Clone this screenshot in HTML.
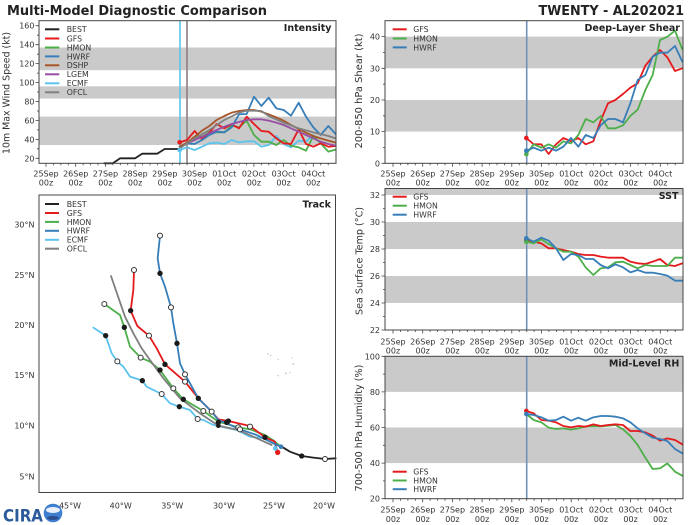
<!DOCTYPE html>
<html><head><meta charset="utf-8"><style>
html,body{margin:0;padding:0;background:#fff;}
svg{display:block;font-family:"DejaVu Sans","Liberation Sans",sans-serif;}
.tl{font-size:8px;fill:#333;}
.lg{font-size:7.8px;fill:#333;}
.yl{font-size:9.4px;fill:#333;}
.pl{font-size:9.5px;font-weight:bold;fill:#222;}
.ln{fill:none;stroke-width:1.8;stroke-linejoin:round;stroke-linecap:round;}
.ns{vector-effect:non-scaling-stroke;}
</style></head><body>
<svg width="700" height="525" viewBox="0 0 700 525" xmlns="http://www.w3.org/2000/svg">
<rect width="700" height="525" fill="#fff"/>

<!-- Titles -->
<text x="7" y="15" font-size="13.5" font-weight="bold" fill="#222" textLength="260" lengthAdjust="spacingAndGlyphs">Multi-Model Diagnostic Comparison</text>
<text x="538.5" y="15" font-size="13.5" font-weight="bold" fill="#222" textLength="145.5" lengthAdjust="spacingAndGlyphs">TWENTY - AL202021</text>

<!-- ================= INTENSITY ================= -->
<g>
<rect x="39" y="47.5" width="297" height="22.7" fill="#cacaca"/>
<rect x="39" y="86.3" width="297" height="12.3" fill="#cacaca"/>
<rect x="39" y="116.6" width="297" height="28.4" fill="#cacaca"/>
<line x1="180" y1="20.7" x2="180" y2="163.3" stroke="#5bc3ee" stroke-width="1.6"/>
<line x1="187" y1="20.7" x2="187" y2="163.3" stroke="#8e7f80" stroke-width="1.6"/>
<g transform="scale(0.333333)">
<path class="ln ns" stroke="#222" d="M313,490 L338,490 L360,475 L405,475 L427,461 L472,461 L494,447 L539,447"/>
<path class="ln ns" stroke="#5bc3ee" d="M539,450 L561,442 L584,450 L606,440 L628,430 L650,428 L673,432 L695,420 L717,427 L740,424 L762,424 L784,440 L806,435 L829,408 L851,432 L873,442 L896,422 L918,425 L940,405"/>
<path class="ln ns" stroke="#4daf4a" d="M539,440 L561,430 L584,410 L606,410 L628,397 L650,397 L673,397 L695,377 L717,382 L740,362 L762,405 L784,425 L806,425 L829,435 L851,420 L873,437 L896,442 L918,452 L940,408 L962,430 L985,455 L1007,449"/>
<path class="ln ns" stroke="#e41a1c" d="M539,427 L561,420 L584,393 L606,418 L628,398 L650,372 L673,385 L695,373 L717,385 L740,350 L762,372 L784,393 L806,395 L829,415 L851,430 L873,432 L896,388 L918,432 L940,440 L962,430 L985,440 L1007,438"/>
<path class="ln ns" stroke="#377eb8" d="M539,440 L561,430 L584,432 L606,420 L628,405 L650,395 L673,397 L695,382 L717,343 L740,342 L762,290 L784,318 L806,293 L829,325 L851,330 L873,347 L896,308 L918,350 L940,382 L962,405 L985,378 L1007,402"/>
<path class="ln ns" stroke="#984ea3" d="M539,440 L561,430 L584,420 L606,410 L628,400 L650,390 L673,380 L695,372 L717,366 L740,360 L762,358 L784,358 L806,362 L829,368 L851,375 L873,385 L896,395 L918,405 L940,415 L962,425 L985,432 L1007,437"/>
<path class="ln ns" stroke="#a65628" d="M539,440 L561,428 L584,410 L606,392 L628,378 L650,360 L673,348 L695,338 L717,333 L740,330 L762,330 L784,335 L806,343 L829,352 L851,362 L873,375 L896,387 L918,398 L940,408 L962,415 L985,422 L1007,428"/>
<path class="ln ns" stroke="#808080" d="M539,445 L584,415 L628,390 L673,360 L717,338 L740,332 L762,332 L784,333 L806,348 L851,368 L896,385 L940,397 L985,408 L1007,415"/>
<circle cx="539" cy="427" r="7" fill="#e41a1c"/>
<circle cx="539" cy="450" r="7" fill="#5bc3ee"/>
</g>
<rect x="39" y="20.7" width="297" height="142.6" fill="none" stroke="#444" stroke-width="1"/>
<path stroke="#444" stroke-width="0.8" fill="none" d="M46,163.3v3.5M75.7,163.3v3.5M105.4,163.3v3.5M135.1,163.3v3.5M164.8,163.3v3.5M194.5,163.3v3.5M224.2,163.3v3.5M253.9,163.3v3.5M283.6,163.3v3.5M313.3,163.3v3.5
M53.4,163.3v2M60.9,163.3v2M68.3,163.3v2M83.1,163.3v2M90.6,163.3v2M98,163.3v2M112.8,163.3v2M120.3,163.3v2M127.7,163.3v2M142.5,163.3v2M150,163.3v2M157.4,163.3v2M172.2,163.3v2M179.7,163.3v2M187.1,163.3v2M201.9,163.3v2M209.4,163.3v2M216.8,163.3v2M231.6,163.3v2M239.1,163.3v2M246.5,163.3v2M261.3,163.3v2M268.8,163.3v2M276.2,163.3v2M291,163.3v2M298.5,163.3v2M305.9,163.3v2M320.7,163.3v2M328.2,163.3v2
M39,158.3h-3.5M39,139.4h-3.5M39,120.4h-3.5M39,101.5h-3.5M39,82.5h-3.5M39,63.6h-3.5M39,44.7h-3.5M39,25.7h-3.5
M39,148.8h-2M39,129.9h-2M39,111h-2M39,92h-2M39,73.1h-2M39,54.2h-2M39,35.2h-2"/>
<g class="tl" text-anchor="end">
<text x="34.5" y="28.7">160</text><text x="34.5" y="47.7">140</text><text x="34.5" y="66.6">120</text><text x="34.5" y="85.5">100</text><text x="34.5" y="104.5">80</text><text x="34.5" y="123.4">60</text><text x="34.5" y="142.4">40</text><text x="34.5" y="161.3">20</text>
</g>
<g class="tl" text-anchor="middle">
<text x="46" y="176.5">25Sep</text><text x="75.7" y="176.5">26Sep</text><text x="105.4" y="176.5">27Sep</text><text x="135.1" y="176.5">28Sep</text><text x="164.8" y="176.5">29Sep</text><text x="194.5" y="176.5">30Sep</text><text x="224.2" y="176.5">01Oct</text><text x="253.9" y="176.5">02Oct</text><text x="283.6" y="176.5">03Oct</text><text x="313.3" y="176.5">04Oct</text>
<text x="46" y="185.7">00z</text><text x="75.7" y="185.7">00z</text><text x="105.4" y="185.7">00z</text><text x="135.1" y="185.7">00z</text><text x="164.8" y="185.7">00z</text><text x="194.5" y="185.7">00z</text><text x="224.2" y="185.7">00z</text><text x="253.9" y="185.7">00z</text><text x="283.6" y="185.7">00z</text><text x="313.3" y="185.7">00z</text>
</g>
<text class="yl" transform="translate(9.5,93) rotate(-90)" text-anchor="middle" textLength="122" lengthAdjust="spacingAndGlyphs">10m Max Wind Speed (kt)</text>
<text class="pl" x="331.5" y="31" text-anchor="end">Intensity</text>
<g stroke-width="2">
<line x1="45" y1="29.3" x2="59.3" y2="29.3" stroke="#222"/>
<line x1="45" y1="38.5" x2="59.3" y2="38.5" stroke="#e41a1c"/>
<line x1="45" y1="47.5" x2="59.3" y2="47.5" stroke="#4daf4a"/>
<line x1="45" y1="56.4" x2="59.3" y2="56.4" stroke="#377eb8"/>
<line x1="45" y1="65.3" x2="59.3" y2="65.3" stroke="#a65628"/>
<line x1="45" y1="74.3" x2="59.3" y2="74.3" stroke="#984ea3"/>
<line x1="45" y1="83.3" x2="59.3" y2="83.3" stroke="#5bc3ee"/>
<line x1="45" y1="92.3" x2="59.3" y2="92.3" stroke="#808080"/>
</g>
<g class="lg">
<text x="66.7" y="32.2">BEST</text><text x="66.7" y="41.4">GFS</text><text x="66.7" y="50.4">HMON</text><text x="66.7" y="59.3">HWRF</text><text x="66.7" y="68.2">DSHP</text><text x="66.7" y="77.2">LGEM</text><text x="66.7" y="86.2">ECMF</text><text x="66.7" y="95.2">OFCL</text>
</g>
</g>

<!-- ================= SHEAR ================= -->
<g>
<rect x="385" y="36.6" width="298" height="31.7" fill="#cacaca"/>
<rect x="385" y="100" width="298" height="31.6" fill="#cacaca"/>
<line x1="526.7" y1="20.7" x2="526.7" y2="163.3" stroke="#6f93b5" stroke-width="1.6"/>
<g transform="translate(350,0) scale(0.333333)">
<path class="ln ns" stroke="#e41a1c" d="M529,414 L551,433 L574,433 L596,462 L618,433 L640,414 L663,424 L685,414 L707,433 L730,424 L752,362 L774,310 L796,300 L819,282 L841,263 L863,250 L886,197 L908,170 L930,150 L952,172 L975,213 L997,205"/>
<path class="ln ns" stroke="#4daf4a" d="M529,462 L551,433 L574,443 L596,433 L618,443 L640,424 L663,430 L685,405 L707,357 L730,367 L752,348 L774,385 L796,385 L819,376 L841,348 L863,329 L886,270 L908,225 L930,120 L952,110 L975,92 L997,148"/>
<path class="ln ns" stroke="#377eb8" d="M529,452 L551,443 L574,452 L596,443 L618,452 L640,440 L663,414 L685,440 L707,405 L730,414 L752,376 L774,357 L796,357 L819,367 L841,310 L863,240 L886,225 L908,170 L930,158 L952,158 L975,138 L997,185"/>
<circle cx="529" cy="414" r="7" fill="#e41a1c"/>
<circle cx="529" cy="462" r="7" fill="#4daf4a"/>
<circle cx="529" cy="452" r="7" fill="#377eb8"/>
</g>
<rect x="385" y="20.7" width="298" height="142.6" fill="none" stroke="#444" stroke-width="1"/>
<path stroke="#444" stroke-width="0.8" fill="none" d="M393,163.3v3.5M422.7,163.3v3.5M452.4,163.3v3.5M482.1,163.3v3.5M511.8,163.3v3.5M541.5,163.3v3.5M571.2,163.3v3.5M600.9,163.3v3.5M630.6,163.3v3.5M660.3,163.3v3.5
M400.4,163.3v2M407.9,163.3v2M415.3,163.3v2M430.1,163.3v2M437.6,163.3v2M445,163.3v2M459.8,163.3v2M467.3,163.3v2M474.7,163.3v2M489.5,163.3v2M497,163.3v2M504.4,163.3v2M519.2,163.3v2M526.7,163.3v2M534.1,163.3v2M548.9,163.3v2M556.4,163.3v2M563.8,163.3v2M578.6,163.3v2M586.1,163.3v2M593.5,163.3v2M608.3,163.3v2M615.8,163.3v2M623.2,163.3v2M638,163.3v2M645.5,163.3v2M652.9,163.3v2M667.7,163.3v2M675.2,163.3v2
M385,163.3h-3.5M385,131.6h-3.5M385,100h-3.5M385,68.3h-3.5M385,36.6h-3.5
M385,147.5h-2M385,115.8h-2M385,84.2h-2M385,52.5h-2"/>
<g class="tl" text-anchor="end">
<text x="380" y="39.6">40</text><text x="380" y="71.3">30</text><text x="380" y="103">20</text><text x="380" y="134.6">10</text><text x="380" y="166.3">0</text>
</g>
<g class="tl" text-anchor="middle">
<text x="393" y="176.5">25Sep</text><text x="422.7" y="176.5">26Sep</text><text x="452.4" y="176.5">27Sep</text><text x="482.1" y="176.5">28Sep</text><text x="511.8" y="176.5">29Sep</text><text x="541.5" y="176.5">30Sep</text><text x="571.2" y="176.5">01Oct</text><text x="600.9" y="176.5">02Oct</text><text x="630.6" y="176.5">03Oct</text><text x="660.3" y="176.5">04Oct</text>
<text x="393" y="185.7">00z</text><text x="422.7" y="185.7">00z</text><text x="452.4" y="185.7">00z</text><text x="482.1" y="185.7">00z</text><text x="511.8" y="185.7">00z</text><text x="541.5" y="185.7">00z</text><text x="571.2" y="185.7">00z</text><text x="600.9" y="185.7">00z</text><text x="630.6" y="185.7">00z</text><text x="660.3" y="185.7">00z</text>
</g>
<text class="yl" transform="translate(362,91) rotate(-90)" text-anchor="middle" textLength="115" lengthAdjust="spacingAndGlyphs">200-850 hPa Shear (kt)</text>
<text class="pl" x="680" y="31" text-anchor="end">Deep-Layer Shear</text>
<g stroke-width="2">
<line x1="392.7" y1="29.3" x2="406.7" y2="29.3" stroke="#e41a1c"/>
<line x1="392.7" y1="38.5" x2="406.7" y2="38.5" stroke="#4daf4a"/>
<line x1="392.7" y1="47.4" x2="406.7" y2="47.4" stroke="#377eb8"/>
</g>
<g class="lg"><text x="413.3" y="32.2">GFS</text><text x="413.3" y="41.4">HMON</text><text x="413.3" y="50.3">HWRF</text></g>
</g>

<!-- ================= SST ================= -->
<g>
<rect x="385" y="188.5" width="298" height="6.5" fill="#cacaca"/>
<rect x="385" y="222" width="298" height="27" fill="#cacaca"/>
<rect x="385" y="276" width="298" height="27" fill="#cacaca"/>
<line x1="526.7" y1="188.5" x2="526.7" y2="330" stroke="#6f93b5" stroke-width="1.6"/>
<g transform="translate(350,180) scale(0.333333)">
<path class="ln ns" stroke="#e41a1c" d="M529,180 L551,185 L574,190 L596,205 L618,205 L640,210 L663,215 L685,222 L707,225 L730,225 L752,230 L774,233 L796,233 L819,233 L841,245 L863,250 L886,252 L908,245 L930,237 L952,255 L975,258 L997,250"/>
<path class="ln ns" stroke="#4daf4a" d="M529,185 L551,190 L574,178 L596,192 L618,205 L640,215 L663,215 L685,230 L707,262 L730,285 L752,265 L774,262 L796,247 L819,245 L841,255 L863,265 L886,255 L908,258 L930,258 L952,258 L975,233 L997,233"/>
<path class="ln ns" stroke="#377eb8" d="M529,175 L551,185 L574,173 L596,182 L618,205 L640,240 L663,222 L685,225 L707,237 L730,237 L752,255 L774,265 L796,253 L819,262 L841,277 L863,270 L886,278 L908,278 L930,282 L952,287 L975,302 L997,302"/>
<circle cx="529" cy="180" r="7" fill="#e41a1c"/>
<circle cx="529" cy="185" r="7" fill="#4daf4a"/>
<circle cx="529" cy="175" r="7" fill="#377eb8"/>
</g>
<rect x="385" y="188.5" width="298" height="141.5" fill="none" stroke="#444" stroke-width="1"/>
<path stroke="#444" stroke-width="0.8" fill="none" d="M393,330v3.5M422.7,330v3.5M452.4,330v3.5M482.1,330v3.5M511.8,330v3.5M541.5,330v3.5M571.2,330v3.5M600.9,330v3.5M630.6,330v3.5M660.3,330v3.5
M400.4,330v2M407.9,330v2M415.3,330v2M430.1,330v2M437.6,330v2M445,330v2M459.8,330v2M467.3,330v2M474.7,330v2M489.5,330v2M497,330v2M504.4,330v2M519.2,330v2M526.7,330v2M534.1,330v2M548.9,330v2M556.4,330v2M563.8,330v2M578.6,330v2M586.1,330v2M593.5,330v2M608.3,330v2M615.8,330v2M623.2,330v2M638,330v2M645.5,330v2M652.9,330v2M667.7,330v2M675.2,330v2
M385,330h-3.5M385,303h-3.5M385,276h-3.5M385,249h-3.5M385,222h-3.5M385,195h-3.5
M385,316.5h-2M385,289.5h-2M385,262.5h-2M385,235.5h-2M385,208.5h-2"/>
<g class="tl" text-anchor="end">
<text x="380" y="198">32</text><text x="380" y="225">30</text><text x="380" y="252">28</text><text x="380" y="279">26</text><text x="380" y="306">24</text><text x="380" y="333">22</text>
</g>
<g class="tl" text-anchor="middle">
<text x="393" y="344.3">25Sep</text><text x="422.7" y="344.3">26Sep</text><text x="452.4" y="344.3">27Sep</text><text x="482.1" y="344.3">28Sep</text><text x="511.8" y="344.3">29Sep</text><text x="541.5" y="344.3">30Sep</text><text x="571.2" y="344.3">01Oct</text><text x="600.9" y="344.3">02Oct</text><text x="630.6" y="344.3">03Oct</text><text x="660.3" y="344.3">04Oct</text>
<text x="393" y="353.5">00z</text><text x="422.7" y="353.5">00z</text><text x="452.4" y="353.5">00z</text><text x="482.1" y="353.5">00z</text><text x="511.8" y="353.5">00z</text><text x="541.5" y="353.5">00z</text><text x="571.2" y="353.5">00z</text><text x="600.9" y="353.5">00z</text><text x="630.6" y="353.5">00z</text><text x="660.3" y="353.5">00z</text>
</g>
<text class="yl" transform="translate(362.5,261) rotate(-90)" text-anchor="middle" textLength="108" lengthAdjust="spacingAndGlyphs">Sea Surface Temp (°C)</text>
<text class="pl" x="678.5" y="199" text-anchor="end">SST</text>
<g stroke-width="2">
<line x1="392.7" y1="196.7" x2="406.7" y2="196.7" stroke="#e41a1c"/>
<line x1="392.7" y1="205.7" x2="406.7" y2="205.7" stroke="#4daf4a"/>
<line x1="392.7" y1="214.7" x2="406.7" y2="214.7" stroke="#377eb8"/>
</g>
<g class="lg"><text x="413.3" y="199.6">GFS</text><text x="413.3" y="208.6">HMON</text><text x="413.3" y="217.6">HWRF</text></g>
</g>

<!-- ================= RH ================= -->
<g>
<rect x="385" y="356.3" width="298" height="35.6" fill="#cacaca"/>
<rect x="385" y="427.5" width="298" height="35.6" fill="#cacaca"/>
<line x1="526.7" y1="356.3" x2="526.7" y2="498.7" stroke="#6f93b5" stroke-width="1.6"/>
<g transform="translate(350,340) scale(0.333333)">
<path class="ln ns" stroke="#4daf4a" d="M529,222 L551,240 L574,247 L596,263 L618,267 L640,265 L663,269 L685,265 L707,259 L730,259 L752,259 L774,257 L796,255 L819,268 L841,288 L863,315 L886,353 L908,387 L930,385 L952,370 L975,395 L997,407"/>
<path class="ln ns" stroke="#e41a1c" d="M529,213 L551,220 L574,240 L596,242 L618,247 L640,258 L663,262 L685,258 L707,260 L730,253 L752,258 L774,255 L796,253 L819,255 L841,273 L863,273 L886,277 L908,287 L930,302 L952,295 L975,300 L997,313"/>
<path class="ln ns" stroke="#377eb8" d="M529,222 L551,225 L574,232 L596,242 L618,240 L640,230 L663,242 L685,233 L707,242 L730,232 L752,228 L774,228 L796,230 L819,235 L841,247 L863,265 L886,280 L908,293 L930,297 L952,303 L975,327 L997,340"/>
<circle cx="529" cy="213" r="7" fill="#e41a1c"/>
<circle cx="529" cy="222" r="7" fill="#377eb8"/>
</g>
<rect x="385" y="356.3" width="298" height="142.4" fill="none" stroke="#444" stroke-width="1"/>
<path stroke="#444" stroke-width="0.8" fill="none" d="M393,498.7v3.5M422.7,498.7v3.5M452.4,498.7v3.5M482.1,498.7v3.5M511.8,498.7v3.5M541.5,498.7v3.5M571.2,498.7v3.5M600.9,498.7v3.5M630.6,498.7v3.5M660.3,498.7v3.5
M400.4,498.7v2M407.9,498.7v2M415.3,498.7v2M430.1,498.7v2M437.6,498.7v2M445,498.7v2M459.8,498.7v2M467.3,498.7v2M474.7,498.7v2M489.5,498.7v2M497,498.7v2M504.4,498.7v2M519.2,498.7v2M526.7,498.7v2M534.1,498.7v2M548.9,498.7v2M556.4,498.7v2M563.8,498.7v2M578.6,498.7v2M586.1,498.7v2M593.5,498.7v2M608.3,498.7v2M615.8,498.7v2M623.2,498.7v2M638,498.7v2M645.5,498.7v2M652.9,498.7v2M667.7,498.7v2M675.2,498.7v2
M385,498.7h-3.5M385,463.1h-3.5M385,427.5h-3.5M385,391.9h-3.5M385,356.3h-3.5
M385,480.9h-2M385,445.3h-2M385,409.7h-2M385,374.1h-2"/>
<g class="tl" text-anchor="end">
<text x="380" y="359.3">100</text><text x="380" y="394.9">80</text><text x="380" y="430.5">60</text><text x="380" y="466.1">40</text><text x="380" y="501.7">20</text>
</g>
<g class="tl" text-anchor="middle">
<text x="393" y="512.5">25Sep</text><text x="422.7" y="512.5">26Sep</text><text x="452.4" y="512.5">27Sep</text><text x="482.1" y="512.5">28Sep</text><text x="511.8" y="512.5">29Sep</text><text x="541.5" y="512.5">30Sep</text><text x="571.2" y="512.5">01Oct</text><text x="600.9" y="512.5">02Oct</text><text x="630.6" y="512.5">03Oct</text><text x="660.3" y="512.5">04Oct</text>
<text x="393" y="522">00z</text><text x="422.7" y="522">00z</text><text x="452.4" y="522">00z</text><text x="482.1" y="522">00z</text><text x="511.8" y="522">00z</text><text x="541.5" y="522">00z</text><text x="571.2" y="522">00z</text><text x="600.9" y="522">00z</text><text x="630.6" y="522">00z</text><text x="660.3" y="522">00z</text>
</g>
<text class="yl" transform="translate(362,428) rotate(-90)" text-anchor="middle" textLength="126.7" lengthAdjust="spacingAndGlyphs">700-500 hPa Humidity (%)</text>
<text class="pl" x="679.3" y="366.7" text-anchor="end">Mid-Level RH</text>
<g stroke-width="2">
<line x1="392.7" y1="471.7" x2="406.7" y2="471.7" stroke="#e41a1c"/>
<line x1="392.7" y1="480.5" x2="406.7" y2="480.5" stroke="#4daf4a"/>
<line x1="392.7" y1="489.2" x2="406.7" y2="489.2" stroke="#377eb8"/>
</g>
<g class="lg"><text x="413.3" y="474.6">GFS</text><text x="413.3" y="483.4">HMON</text><text x="413.3" y="492.1">HWRF</text></g>
</g>

<!-- ================= TRACK ================= -->
<g>
<g fill="#bbb">
<circle cx="268" cy="354" r="0.8"/><circle cx="270.7" cy="355.7" r="0.7"/><circle cx="278.3" cy="359.3" r="0.6"/><circle cx="291.7" cy="357.7" r="0.6"/><circle cx="293.3" cy="364" r="0.8"/><circle cx="286" cy="373.3" r="0.8"/><circle cx="278.3" cy="375.7" r="0.7"/><circle cx="290" cy="372.7" r="0.6"/>
</g>
<g transform="translate(0,190) scale(0.333333)">
<path class="ln ns" stroke="#5bc3ee" stroke-width="2" d="M830,780 L820,750 L795,745 L750,740 L710,720 L640,705 L610,690 L593,687 L570,660 L538,650 L510,640 L485,612 L440,590 L427,572 L390,560 L370,530 L352,514 L335,490 L330,475 L317,437 L280,413"/>
<path class="ln ns" stroke="#4daf4a" stroke-width="2" d="M840,768 L825,755 L795,735 L750,718 L715,712 L655,695 L610,663 L550,628 L520,595 L480,540 L450,515 L422,503 L390,470 L373,412 L360,375 L313,342"/>
<path class="ln ns" stroke="#e41a1c" stroke-width="2" d="M833,787 L825,755 L795,742 L750,708 L685,693 L655,688 L635,665 L595,625 L555,575 L495,523 L470,475 L447,437 L412,408 L392,362 L400,300 L402,240"/>
<path class="ln ns" stroke="#377eb8" stroke-width="2" d="M843,770 L820,760 L770,735 L720,718 L680,700 L655,690 L635,665 L595,625 L555,553 L540,520 L531,460 L520,400 L513,352 L495,290 L480,250 L473,205 L480,137"/>
<path class="ln ns" stroke="#7f7f7f" stroke-width="2" d="M815,765 L715,720 L655,707 L600,670 L540,625 L490,565 L450,510 L425,475 L400,430 L375,380 L333,258"/>
<path class="ln ns" stroke="#222" stroke-width="2" d="M845,770 L870,785 L905,798 L940,803 L975,807 L1007,805"/>
<g fill="#1a1a1a">
<circle cx="905" cy="798" r="8"/>
<circle cx="795" cy="742" r="8"/><circle cx="685" cy="693" r="8"/><circle cx="595" cy="625" r="8"/><circle cx="495" cy="523" r="8"/><circle cx="392" cy="362" r="8"/>
<circle cx="373" cy="412" r="8"/><circle cx="480" cy="540" r="8"/><circle cx="550" cy="628" r="8"/><circle cx="655" cy="697" r="8"/>
<circle cx="480" cy="250" r="8"/><circle cx="531" cy="460" r="8"/><circle cx="680" cy="697" r="8"/>
<circle cx="317" cy="437" r="8"/><circle cx="427" cy="572" r="8"/><circle cx="538" cy="650" r="8"/>
<circle cx="655" cy="707" r="7"/><circle cx="795" cy="742" r="7"/>
</g>
<g fill="#fff" stroke="#333" class="ns" stroke-width="1">
<circle class="ns" cx="975" cy="807" r="7.5"/>
<circle class="ns" cx="750" cy="710" r="7.5"/><circle class="ns" cx="635" cy="665" r="7.5"/><circle class="ns" cx="555" cy="575" r="7.5"/><circle class="ns" cx="447" cy="437" r="7.5"/><circle class="ns" cx="402" cy="240" r="7.5"/>
<circle class="ns" cx="313" cy="342" r="7.5"/><circle class="ns" cx="422" cy="503" r="7.5"/><circle class="ns" cx="520" cy="595" r="7.5"/><circle class="ns" cx="610" cy="663" r="7.5"/><circle class="ns" cx="715" cy="712" r="7.5"/>
<circle class="ns" cx="480" cy="137" r="7.5"/><circle class="ns" cx="513" cy="352" r="7.5"/><circle class="ns" cx="555" cy="553" r="7.5"/><circle class="ns" cx="720" cy="718" r="7.5"/>
<circle class="ns" cx="352" cy="514" r="7.5"/><circle class="ns" cx="485" cy="612" r="7.5"/><circle class="ns" cx="593" cy="687" r="7.5"/>
</g>
<circle cx="833" cy="787" r="8" fill="#e41a1c"/>
<circle cx="826" cy="775" r="7" fill="#5bc3ee"/>
<circle cx="843" cy="770" r="7" fill="#377eb8"/>
</g>
<rect x="39" y="195" width="296.5" height="297.5" fill="none" stroke="#444" stroke-width="1"/>
<g class="tl" text-anchor="end">
<text x="34.5" y="227.6">30°N</text><text x="34.5" y="277.9">25°N</text><text x="34.5" y="328">20°N</text><text x="34.5" y="378">15°N</text><text x="34.5" y="428.6">10°N</text><text x="34.5" y="479.3">5°N</text>
</g>
<g class="tl" text-anchor="middle">
<text x="70" y="508.5">45°W</text><text x="120.7" y="508.5">40°W</text><text x="172.3" y="508.5">35°W</text><text x="224" y="508.5">30°W</text><text x="274" y="508.5">25°W</text><text x="324" y="508.5">20°W</text>
</g>
<text class="pl" x="331" y="207.3" text-anchor="end">Track</text>
<g stroke-width="2">
<line x1="45" y1="204" x2="59" y2="204" stroke="#222"/>
<line x1="45" y1="213" x2="59" y2="213" stroke="#e41a1c"/>
<line x1="45" y1="221.9" x2="59" y2="221.9" stroke="#4daf4a"/>
<line x1="45" y1="230.8" x2="59" y2="230.8" stroke="#377eb8"/>
<line x1="45" y1="239.8" x2="59" y2="239.8" stroke="#5bc3ee"/>
<line x1="45" y1="248.7" x2="59" y2="248.7" stroke="#7f7f7f"/>
</g>
<g class="lg">
<text x="66.7" y="206.9">BEST</text><text x="66.7" y="215.9">GFS</text><text x="66.7" y="224.8">HMON</text><text x="66.7" y="233.7">HWRF</text><text x="66.7" y="242.7">ECMF</text><text x="66.7" y="251.6">OFCL</text>
</g>
</g>

<!-- CIRA logo -->
<g>
<text x="3" y="521.5" font-size="17" font-weight="bold" fill="#2a5a9a" textLength="40" lengthAdjust="spacingAndGlyphs">CIRA</text>
<circle cx="53" cy="513" r="9.3" fill="#3f7fcf"/>
<ellipse cx="53" cy="510" rx="7" ry="3" fill="#e8f1fb"/>
<ellipse cx="53" cy="518" rx="6" ry="2" fill="#2b4f8f"/>
</g>
</svg>
</body></html>
